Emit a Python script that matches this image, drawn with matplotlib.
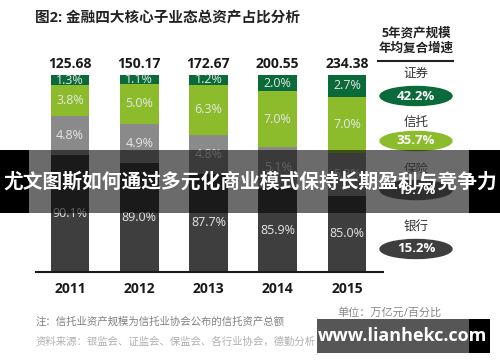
import matplotlib
matplotlib.use("Agg")
import matplotlib.pyplot as plt
from matplotlib.patches import Ellipse, Rectangle

plt.rcParams['font.family'] = ['Open Sans', 'Noto Sans CJK SC', 'DejaVu Sans']

# data (share of total assets, %)
years = ['2011', '2012', '2013', '2014', '2015']
totals = [125.68, 150.17, 172.67, 200.55, 234.38]
bank = [90.1, 89.0, 87.7, 85.9, 85.0]
insurance = [4.8, 4.9, 4.8, 5.1, 5.3]
trust = [3.8, 5.0, 6.3, 7.0, 7.0]
securities = [1.3, 1.1, 1.2, 2.0, 2.7]

cagr_names = ['证券', '信托', '保险', '银行']
cagr_values = ['42.2%', '35.7%', '19.7%', '15.2%']

col_bank = '#3e3e3e'
col_ins = '#8a8a8a'
col_trust = '#8cbc2c'
col_sec = '#0a6a3a'
cagr_colors = [col_sec, col_trust, '#6f6f6f', col_bank]

fig = plt.figure(figsize=(5, 3.62), dpi=100)
fig.patch.set_facecolor('white')

ax = fig.add_axes([0.072, 0.2486, 0.694, 0.5442])
x = list(range(len(years)))
w = 0.56
ymin = 75.5

b1 = bank
b2 = [a + b for a, b in zip(b1, insurance)]
b3 = [a + b for a, b in zip(b2, trust)]

ax.bar(x, bank, w, color=col_bank)
ax.bar(x, insurance, w, bottom=b1, color=col_ins)
ax.bar(x, trust, w, bottom=b2, color=col_trust)
ax.bar(x, securities, w, bottom=b3, color=col_sec)

ax.set_xlim(-0.49, 4.52)
ax.set_ylim(ymin, 100)

lab = dict(ha='center', va='center', color='#e6e6e6', fontsize=9)
for i in x:
    ax.text(i, (ymin + bank[i]) / 2, f'{bank[i]:.1f}%', **lab)
    ax.text(i, b1[i] + insurance[i] / 2, f'{insurance[i]:.1f}%', **lab)
    ax.text(i, b2[i] + trust[i] / 2, f'{trust[i]:.1f}%', **lab)
    ax.text(i, b3[i] + securities[i] / 2, f'{securities[i]:.1f}%', **lab)
    ax.annotate(f'{totals[i]:.2f}', (i, 100), xytext=(0, 3), textcoords='offset points',
                ha='center', va='bottom', fontsize=10, fontweight='bold', color='#1a1a1a')

ax.set_xticks(x)
ax.set_xticklabels(years, fontsize=10, fontweight='bold', color='#1a1a1a')
ax.tick_params(axis='x', length=0, pad=7)
ax.set_yticks([])
for s in ['top', 'right', 'left']:
    ax.spines[s].set_visible(False)
ax.spines['bottom'].set_linewidth(1.5)
ax.spines['bottom'].set_color('#1a1a1a')

# overlay in pixel coordinates for annotations
ov = fig.add_axes([0, 0, 1, 1], zorder=5)
ov.set_xlim(0, 500)
ov.set_ylim(362, 0)
ov.axis('off')

ov.text(35, 18, '图2: 金融四大核心子业态总资产占比分析', fontsize=10.5, fontweight='bold',
        color='#222222', va='center', ha='left')

ov.text(416, 33, '5年资产规模', fontsize=9, fontweight='bold', color='#222222', ha='center', va='center')
ov.text(416, 48, '年均复合增速', fontsize=9, fontweight='bold', color='#222222', ha='center', va='center')
ov.plot([378, 453], [61, 61], color='#222222', lw=1.5)

label_y = [73, 122, 170, 227]
ell_y = [96, 141, 190, 249]
for name, val, c, ly, ey in zip(cagr_names, cagr_values, cagr_colors, label_y, ell_y):
    ov.text(416, ly, name, fontsize=9, color='#333333', ha='center', va='center')
    ov.add_patch(Ellipse((416, ey), 72, 19, color=c))
    ov.text(416, ey, val, fontsize=9.5, fontweight='bold', color='white', ha='center', va='center')

ov.text(390, 313, '单位：万亿元/百分比', fontsize=8, color='#888888', ha='center', va='center')
ov.text(36, 322, '注：信托业资产规模为信托业协会公布的信托资产总额', fontsize=7.5, color='#808080',
        ha='left', va='center')
ov.text(36, 342, '资料来源：银监会、证监会、保监会、各行业协会，德勤分析', fontsize=7.5, color='#b0b0b0',
        ha='left', va='center')

# banner overlay
ov.add_patch(Rectangle((29, 150), 440, 63, color='black', alpha=0.58, lw=0))
ov.add_patch(Rectangle((0, 150), 29, 63, color='black', lw=0))
ov.add_patch(Rectangle((469, 150), 31, 63, color='black', lw=0))
ov.text(250, 183, '尤文图斯如何通过多元化商业模式保持长期盈利与竞争力', fontsize=14.2,
        fontweight='bold', color='white', ha='center', va='center')

# watermark box
ov.add_patch(Rectangle((317, 319), 152, 34, color='#565656', lw=0))
ov.add_patch(Rectangle((469, 319), 21, 34, color='black', lw=0))
ov.text(403, 336, 'www.lianhekc.com', fontsize=13, fontweight='bold', color='white',
        ha='center', va='center')

fig.savefig('out.png', dpi=100)
